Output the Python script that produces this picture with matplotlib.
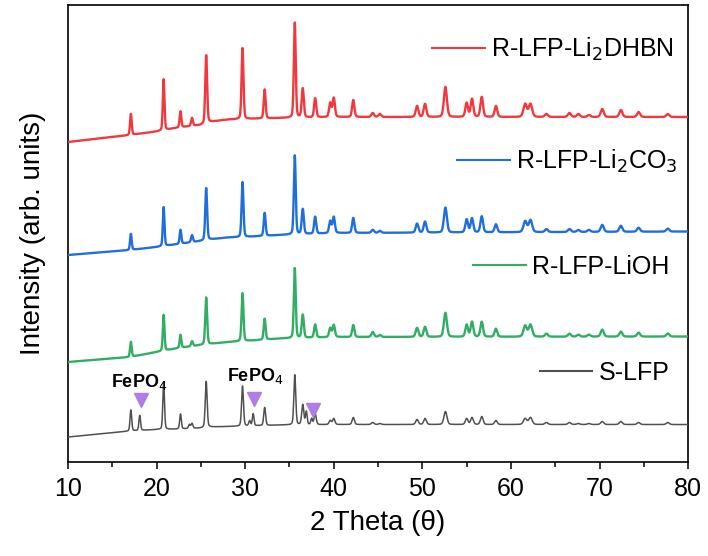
import numpy as np
import matplotlib
matplotlib.use("Agg")
import matplotlib.pyplot as plt

plt.rcParams["font.family"] = ["Liberation Sans", "DejaVu Sans"]

# ── Data ──────────────────────────────────────────────────────────────────────
samples = ["S-LFP", "R-LFP-LiOH", "R-LFP-Li$_2$CO$_3$", "R-LFP-Li$_2$DHBN"]
colors  = ["#505050", "#2FAE64", "#1E6FDC", "#F2383C"]

# common LiFePO4 reflections (2 theta) and peak widths (FWHM, deg)
peak_pos = [17.1, 20.8, 22.7, 24.0, 25.6, 29.7, 32.2, 35.6, 36.5, 37.9,
            39.6, 40.0, 42.2, 44.4, 45.2, 49.4, 50.3, 52.6, 55.0, 55.6,
            56.7, 58.3, 61.6, 62.2, 64.0, 66.6, 67.6, 68.8, 70.3, 72.4,
            74.4, 77.7]
peak_fwhm = [0.22, 0.22, 0.22, 0.25, 0.25, 0.25, 0.25, 0.25, 0.28, 0.28,
             0.3, 0.3, 0.3, 0.35, 0.35, 0.35, 0.35, 0.4, 0.35, 0.35,
             0.35, 0.35, 0.45, 0.45, 0.4, 0.4, 0.4, 0.4, 0.4, 0.4,
             0.4, 0.4]

h_slfp  = [21, 47, 15, 5, 46, 40, 18, 50, 20, 11,
           4, 6, 7, 2, 1, 5, 6, 13, 6, 7,
           8, 4, 6, 7, 2, 2, 1, 1, 3, 3,
           2, 2]
h_lioh  = [15, 36, 13, 5, 47, 48, 21, 70, 23, 13,
           9, 12, 12, 5, 2, 9, 10, 24, 12, 15,
           15, 8, 11, 12, 3, 3, 2, 2, 7, 5,
           4, 3]
h_li2co3 = [16, 39, 14, 7, 52, 55, 23, 79, 25, 17,
            12, 16, 15, 3, 2, 9, 11, 25, 13, 14,
            16, 8, 11, 12, 3, 3, 2, 2, 7, 6,
            4, 3]
h_dhbn  = [21, 51, 16, 8, 68, 71, 29, 95, 29, 19,
           14, 19, 17, 4, 3, 11, 13, 30, 14, 18,
           20, 11, 13, 13, 3, 4, 3, 2, 8, 7,
           5, 3]
heights = [h_slfp, h_lioh, h_li2co3, h_dhbn]

# extra FePO4 reflections in S-LFP only
fepo4_pos    = [18.1, 23.7, 30.5, 30.9, 36.9, 37.5]
fepo4_height = [15, 4, 5, 12, 13, 6]

# baselines (anchor points, 2 theta -> intensity incl. stacking offset)
base_x = [10, 17, 20, 22.5, 25, 26, 28, 30, 34, 40, 80]
base_slfp   = [25, 31, 32.5, 33, 34, 35, 35.5, 36, 37, 37.5, 37.5]
base_lioh   = [100, 105, 110, 114, 117, 118, 120, 121, 123.5, 125, 125.5]
base_li2co3 = [207, 212, 215, 218, 221, 222.5, 224.5, 225, 227, 229, 230.5]
base_dhbn   = [320, 327, 330.5, 334.5, 337, 340, 342.5, 343, 344, 345, 345]
baselines = [base_slfp, base_lioh, base_li2co3, base_dhbn]

# marker positions for FePO4 impurities
tri_x = [18.2, 31.0, 37.6]
tri_y = [62, 63, 52]

two_theta = np.arange(10, 80.001, 0.01)


def pattern(base, hts, pos=peak_pos, fw=peak_fwhm):
    y = np.interp(two_theta, base_x, base)
    for p, h, w in zip(pos, hts, fw):
        g = np.exp(-4 * np.log(2) * ((two_theta - p) / w) ** 2)
        l = 1 / (1 + 4 * ((two_theta - p) / w) ** 2)
        y += h * (0.75 * g + 0.25 * l)
    return y


# ── Plot ──────────────────────────────────────────────────────────────────────
fig = plt.figure(figsize=(7.08, 5.56), dpi=100)
ax = fig.add_axes([0.096, 0.169, 0.876, 0.822])

for i, (name, col) in enumerate(zip(samples, colors)):
    y = pattern(baselines[i], heights[i])
    if i == 0:
        y = y + pattern([0] * len(base_x), fepo4_height, fepo4_pos,
                        [0.22] * len(fepo4_pos))
        lw = 1.1
    else:
        lw = 1.7
    ax.plot(two_theta, y, color=col, lw=lw, zorder=3 + i)

# hand-placed legend entries
leg_line = [(63.3, 69.2, 91), (55.7, 61.7, 197), (53.9, 59.9, 302), (51.1, 57.1, 414)]
for (x0, x1, yl), name, col in zip(leg_line, samples, colors):
    ax.plot([x0, x1], [yl, yl], color=col, lw=1.5)
    ax.text(x1 + 0.7, yl - 8.5, name, fontsize=18, ha="left", va="baseline")

ax.plot(tri_x, tri_y, "v", color="#B07CE6", ms=10, ls="none", zorder=10)
ax.text(14.9, 75, "FePO$_4$", fontsize=13, fontweight="bold", ha="left", va="baseline")
ax.text(27.9, 81, "FePO$_4$", fontsize=13, fontweight="bold", ha="left", va="baseline")

ax.set_xlim(10, 80)
ax.set_ylim(0, 457)
ax.set_xticks(np.arange(10, 81, 10))
ax.set_xticks(np.arange(15, 80, 10), minor=True)
ax.set_yticks([])
ax.tick_params(axis="x", which="major", direction="out", length=5, width=1.1,
               labelsize=18, pad=6)
ax.tick_params(axis="x", which="minor", direction="out", length=3.5, width=1.1)
for s in ax.spines.values():
    s.set_linewidth(1.2)

ax.set_xlabel("2 Theta (θ)", fontsize=20, labelpad=6)
ax.set_ylabel("Intensity (arb. units)", fontsize=20, labelpad=16)

fig.savefig("out.png", dpi=100)
